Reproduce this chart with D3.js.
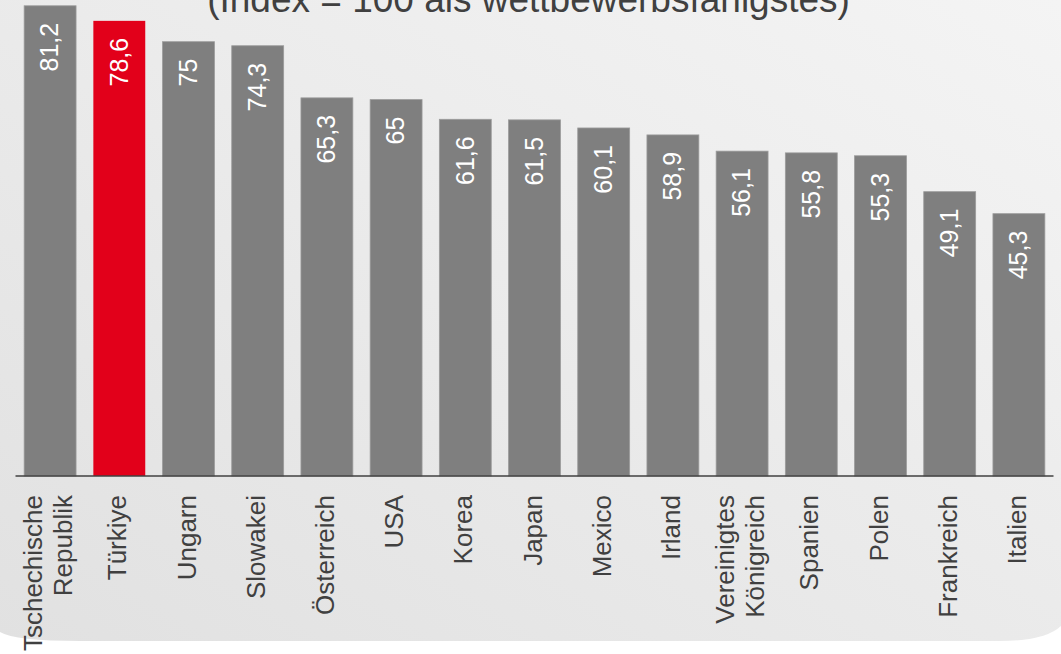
<!DOCTYPE html>
<html>
<head>
<meta charset="utf-8">
<script src="https://cdn.jsdelivr.net/npm/d3@7"></script>
<style>
  html, body { margin: 0; padding: 0; background: #ffffff; }
  svg { display: block; font-family: "Liberation Sans", Arial, sans-serif; }
</style>
</head>
<body>
<div id="chart"></div>
<script>
var categories = ["Tschechische\nRepublik", "Türkiye", "Ungarn", "Slowakei", "Österreich", "USA", "Korea",
  "Japan", "Mexico", "Irland", "Vereinigtes\nKönigreich", "Spanien", "Polen", "Frankreich", "Italien"];
var values = [81.2, 78.6, 75, 74.3, 65.3, 65, 61.6, 61.5, 60.1, 58.9, 56.1, 55.8, 55.3, 49.1, 45.3];
var highlight = ["Türkiye"];
var title = "(Index = 100 als wettbewerbsfähigstes)";

var width = 1061, height = 654;
var axisY = 476;

var svg = d3.select("#chart").append("svg")
  .attr("width", width)
  .attr("height", height);

// background panel with soft gradient
var defs = svg.append("defs");
var grad = defs.append("linearGradient")
  .attr("id", "bg")
  .attr("x1", "100%").attr("y1", "0%")
  .attr("x2", "0%").attr("y2", "100%");
grad.append("stop").attr("offset", "0%").attr("stop-color", "#f4f4f4");
grad.append("stop").attr("offset", "100%").attr("stop-color", "#e1e1e1");

svg.append("path")
  .attr("d", "M0,0 L1061,0 L1061,626 Q1045,641 1000,641 L80,641 Q15,641 0,632 Z")
  .attr("fill", "url(#bg)");

var x = d3.scaleBand()
  .domain(categories)
  .range([15.5, 1053.5])
  .paddingInner(0.25)
  .paddingOuter(0.125);

var y = d3.scaleLinear()
  .domain([0, 82.2])
  .range([axisY, 0]);

var data = categories.map(function(c, i) { return { name: c, value: values[i] }; });

svg.append("g")
  .selectAll("rect")
  .data(data)
  .enter()
  .append("rect")
    .attr("x", function(d) { return x(d.name); })
    .attr("width", x.bandwidth())
    .attr("y", function(d) { return y(d.value); })
    .attr("height", function(d) { return axisY - y(d.value); })
    .attr("fill", function(d) { return highlight.indexOf(d.name) >= 0 ? "#e2001a" : "#7f7f7f"; })
    .attr("stroke", function(d) { return highlight.indexOf(d.name) >= 0 ? "none" : "#9b9b9b"; })
    .attr("stroke-width", 0.8);

// value labels inside bars
svg.append("g")
  .selectAll("text")
  .data(data)
  .enter()
  .append("text")
    .attr("transform", function(d) {
      return "translate(" + (x(d.name) + x.bandwidth() / 2) + "," + (y(d.value) + 17) + ") rotate(-90)";
    })
    .attr("text-anchor", "end")
    .attr("dy", "0.33em")
    .attr("fill", "#ffffff")
    .style("font-size", "25px")
    .text(function(d) { return String(d.value).replace(".", ","); });

// axis line
svg.append("line")
  .attr("x1", x.range()[0]).attr("x2", x.range()[1])
  .attr("y1", axisY).attr("y2", axisY)
  .attr("stroke", "#404040")
  .attr("stroke-width", 1.5);

// category labels
var labels = svg.append("g")
  .selectAll("text")
  .data(data)
  .enter()
  .append("text")
    .attr("transform", function(d) {
      return "translate(" + (x(d.name) + x.bandwidth() / 2) + "," + (axisY + 19) + ") rotate(-90)";
    })
    .attr("text-anchor", "end")
    .attr("fill", "#404040")
    .style("font-size", "26px");

labels.each(function(d) {
  var lines = d.name.split("\n");
  var t = d3.select(this);
  lines.forEach(function(line, i) {
    t.append("tspan")
      .attr("x", 0)
      .attr("y", 7 + (i - (lines.length - 1) / 2) * 30)
      .text(line);
  });
});

svg.append("text")
  .attr("x", 528.5)
  .attr("y", 12)
  .attr("text-anchor", "middle")
  .attr("fill", "#404040")
  .style("font-size", "37px")
  .text(title);
</script>
</body>
</html>
